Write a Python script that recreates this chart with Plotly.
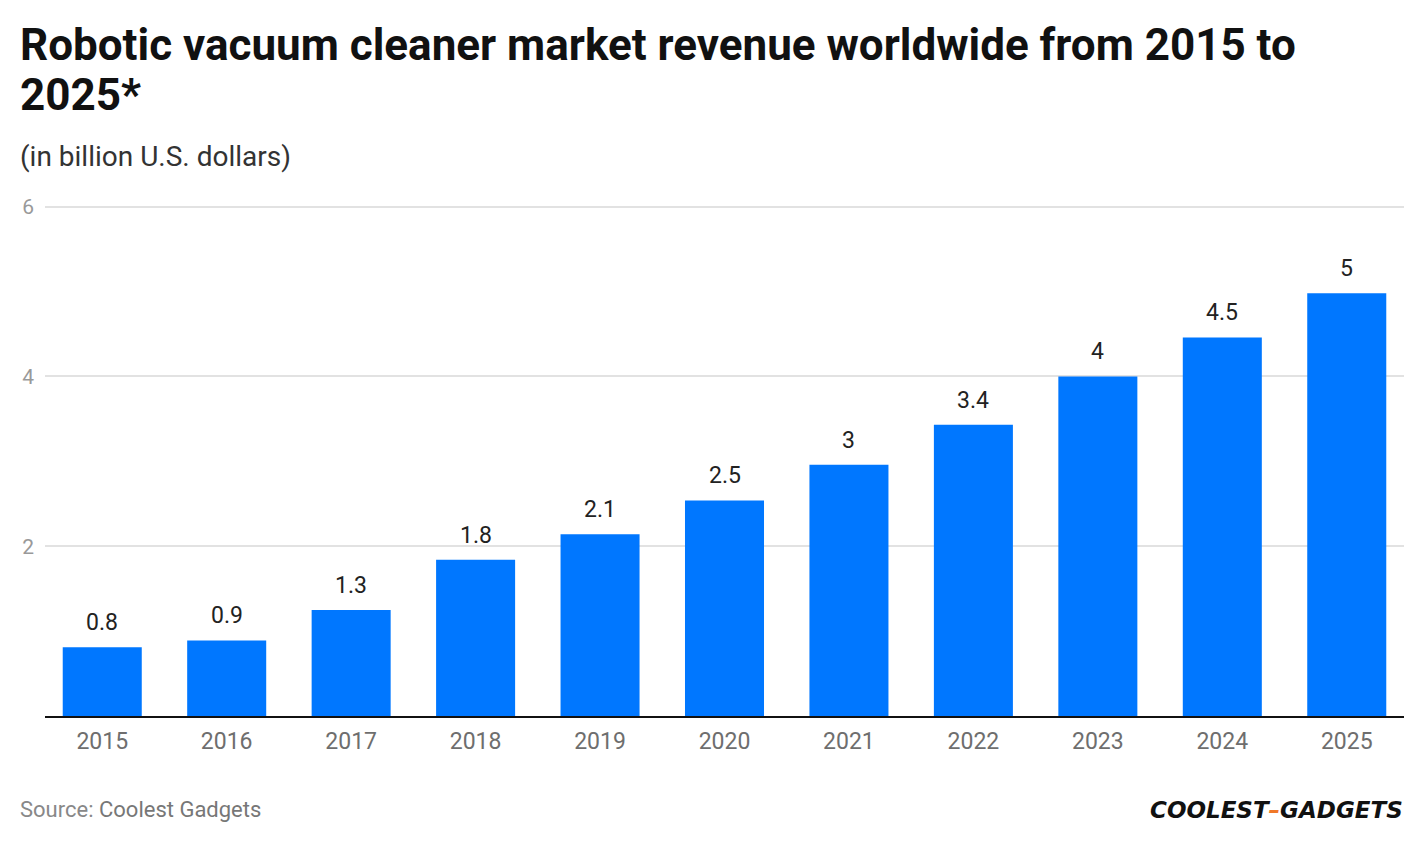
import plotly.graph_objects as go

years = ["2015", "2016", "2017", "2018", "2019", "2020", "2021", "2022", "2023", "2024", "2025"]
revenue = [0.81, 0.89, 1.25, 1.84, 2.14, 2.54, 2.96, 3.43, 4.0, 4.46, 4.98]
labels = ["0.8", "0.9", "1.3", "1.8", "2.1", "2.5", "3", "3.4", "4", "4.5", "5"]
y_ticks = [2, 4, 6]

W, H = 1424, 842
L, R, T, B = 45, 20, 205, 126

fig = go.Figure()
fig.add_trace(go.Bar(
    x=years, y=revenue,
    marker=dict(color="#0077FF", line=dict(width=0)),
    width=0.635, hoverinfo="skip",
))


def px(x, y):
    return (x - L) / (W - L - R), (H - y - B) / (H - T - B)


anns = []

# value labels above bars, placed in data coordinates (category index on x)
for i, (v, lab) in enumerate(zip(revenue, labels)):
    anns.append(dict(text=lab, x=i, y=v, xref="x", yref="y",
                     xanchor="center", yanchor="bottom", yshift=9,
                     showarrow=False,
                     font=dict(family="Roboto", size=23, color="#222222")))


def add(text, x, y, xanchor, yanchor, font, align="left"):
    xp, yp = px(x, y)
    anns.append(dict(text=text, x=xp, y=yp, xref="paper", yref="paper",
                     xanchor=xanchor, yanchor=yanchor, showarrow=False,
                     align=align, font=font))


title_font = dict(family="Roboto", size=44, color="#111111")
add("<b>Robotic vacuum cleaner market revenue worldwide from 2015 to</b>", 18, 17, "left", "top", title_font)
add("<b>2025*</b>", 18, 67, "left", "top", title_font)
add("(in billion U.S. dollars)", 18, 138, "left", "top",
    dict(family="Roboto", size=28, color="#333333"))
add("Source: <span style='color:#777777'>Coolest Gadgets</span>", 18, 795, "left", "top",
    dict(family="Roboto", size=22, color="#888888"))
add("<b><i>COOLEST<span style='color:#F07828'>–</span>GADGETS</i></b>", 1405, 795, "right", "top",
    dict(family="DejaVu Sans", size=23, color="#111111"), align="right")

fig.update_layout(
    width=W, height=H,
    paper_bgcolor="white", plot_bgcolor="white",
    margin=dict(l=L, r=R, t=T, b=B),
    showlegend=False,
    xaxis=dict(
        type="category", range=[-0.46, 10.46],
        showline=True, linecolor="#111111", linewidth=2,
        showgrid=False, ticks="",
        tickfont=dict(family="Roboto", size=23, color="#6E6E6E"),
        ticklabelstandoff=3,
    ),
    yaxis=dict(
        range=[0, 6.02], tickvals=y_ticks, ticktext=[str(v) for v in y_ticks],
        showgrid=True, gridcolor="#E2E2E2", gridwidth=1.5,
        zeroline=False, showline=False, ticks="",
        tickfont=dict(family="Roboto", size=21, color="#999999"),
        ticklabelstandoff=10,
    ),
    annotations=anns,
)

fig.write_html("out.html", config={"displayModeBar": False},
               post_script="document.body.style.margin='0';document.body.style.padding='0';")
